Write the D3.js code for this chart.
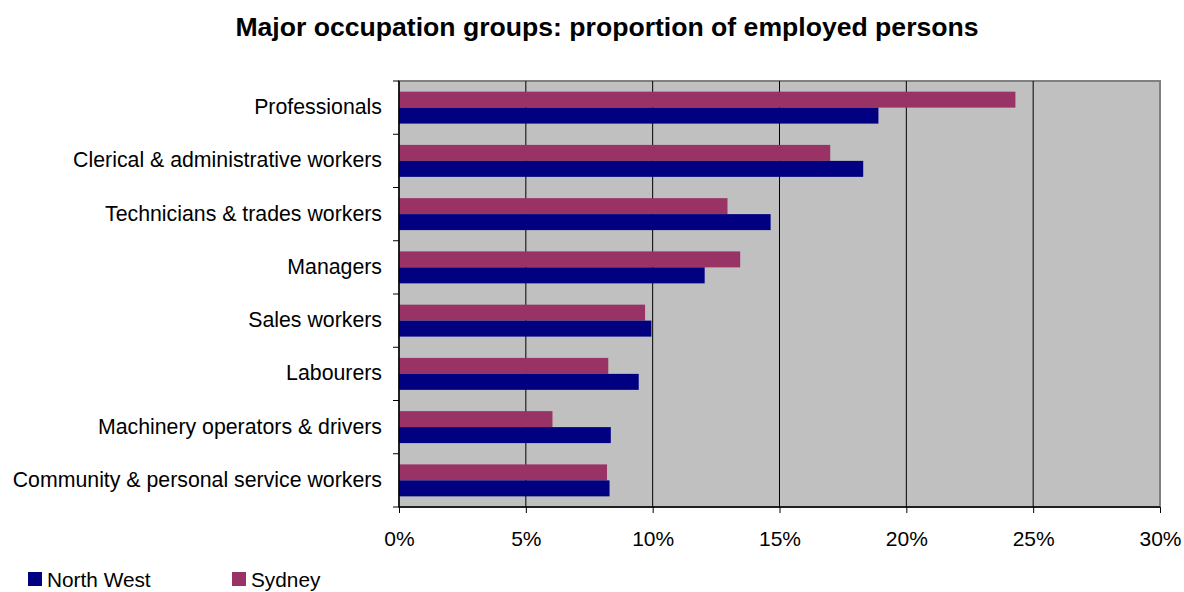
<!DOCTYPE html>
<html>
<head>
<meta charset="utf-8">
<title>Major occupation groups</title>
<style>
body { margin: 0; background: #fff; }
text { font-family: "Liberation Sans", Arial, sans-serif; fill: #000; }
.title { font-size: 26.6px; font-weight: bold; }
.cat { font-size: 21.3px; }
.tick text { font-size: 21px; }
.legend text { font-size: 20.8px; }
</style>
</head>
<body>
<script src="https://cdn.jsdelivr.net/npm/d3@7"></script>
<script>

var categories = ["Professionals", "Clerical & administrative workers", "Technicians & trades workers",
  "Managers", "Sales workers", "Labourers", "Machinery operators & drivers",
  "Community & personal service workers"];
var sydney    = [24.3, 17.0, 12.95, 13.45, 9.7, 8.25, 6.05, 8.2];
var northWest = [18.9, 18.3, 14.65, 12.05, 9.95, 9.45, 8.35, 8.3];
var xTicks = [0, 5, 10, 15, 20, 25, 30];
var seriesNames = ["Sydney", "North West"];
var colors = {"North West": "#000080", "Sydney": "#993366"};

var width = 1184, height = 592;
var plotLeft = 399, plotRight = 1160, plotTop = 81, plotBottom = 507;

var svg = d3.select("body").append("svg")
    .attr("width", width)
    .attr("height", height);

var x = d3.scaleLinear().domain([0, 30]).range([plotLeft, plotRight]);
var y = d3.scaleBand().domain(categories).range([plotTop, plotBottom]).paddingInner(0.4).paddingOuter(0.2);
var ySub = d3.scaleBand().domain(seriesNames).range([0, y.bandwidth()]);

// plot area
svg.append("rect")
    .attr("x", plotLeft).attr("y", plotTop)
    .attr("width", plotRight - plotLeft).attr("height", plotBottom - plotTop)
    .attr("fill", "#c0c0c0")
    .attr("stroke", "#808080")
    .attr("stroke-width", 2);

// gridlines
svg.append("g").selectAll("line")
    .data(xTicks.slice(1, -1))
    .enter().append("line")
    .attr("x1", function(d) { return x(d); })
    .attr("x2", function(d) { return x(d); })
    .attr("y1", plotTop).attr("y2", plotBottom)
    .attr("stroke", "#000")
    .attr("stroke-width", 1);

// bars
var rows = categories.map(function(c, i) {
  return {cat: c, values: [{name: "Sydney", v: sydney[i]}, {name: "North West", v: northWest[i]}]};
});

var group = svg.append("g").selectAll("g")
    .data(rows)
    .enter().append("g")
    .attr("transform", function(d) { return "translate(0," + y(d.cat) + ")"; });

group.selectAll("rect")
    .data(function(d) { return d.values; })
    .enter().append("rect")
    .attr("x", x(0))
    .attr("y", function(d) { return ySub(d.name); })
    .attr("width", function(d) { return x(d.v) - x(0); })
    .attr("height", ySub.bandwidth())
    .attr("fill", function(d) { return colors[d.name]; });

// x axis
var xAxis = svg.append("g")
    .attr("class", "xaxis")
    .attr("transform", "translate(0," + plotBottom + ")")
    .call(d3.axisBottom(x).tickValues(xTicks).tickSize(6).tickPadding(18)
      .tickFormat(function(d) { return d + "%"; }));
xAxis.select(".domain").attr("stroke", "#000").attr("stroke-width", 1.5).attr("d", "M" + plotLeft + ",0H" + plotRight);
xAxis.selectAll(".tick line").attr("stroke", "#000");
xAxis.selectAll(".tick text").style("font-family", "'Liberation Sans', Arial, sans-serif").attr("fill", "#000");

// y axis: ticks on band boundaries
var yAxis = svg.append("g");
yAxis.append("line")
    .attr("x1", plotLeft).attr("x2", plotLeft)
    .attr("y1", plotTop).attr("y2", plotBottom)
    .attr("stroke", "#000").attr("stroke-width", 1.5);
var step = (plotBottom - plotTop) / categories.length;
yAxis.selectAll(".ytick")
    .data(d3.range(categories.length + 1))
    .enter().append("line")
    .attr("x1", plotLeft - 6).attr("x2", plotLeft)
    .attr("y1", function(d) { return plotTop + d * step; })
    .attr("y2", function(d) { return plotTop + d * step; })
    .attr("stroke", "#000");

svg.append("g").selectAll("text")
    .data(categories)
    .enter().append("text")
    .attr("class", "cat")
    .attr("x", 382)
    .attr("y", function(d) { return y(d) + y.bandwidth() / 2; })
    .attr("dy", "0.3em")
    .attr("text-anchor", "end")
    .text(function(d) { return d; });

// title
svg.append("text")
    .attr("class", "title")
    .attr("x", 607).attr("y", 36)
    .attr("text-anchor", "middle")
    .text("Major occupation groups: proportion of employed persons");

// legend
var legendItems = [{name: "North West", x: 28}, {name: "Sydney", x: 232}];
var legend = svg.append("g").attr("class", "legend").selectAll("g")
    .data(legendItems)
    .enter().append("g")
    .attr("transform", function(d) { return "translate(" + d.x + ",572)"; });
legend.append("rect")
    .attr("width", 14).attr("height", 14)
    .attr("fill", function(d) { return colors[d.name]; });
legend.append("text")
    .attr("x", 19).attr("y", 7)
    .attr("dy", "0.36em")
    .text(function(d) { return d.name; });

</script>
</body>
</html>
